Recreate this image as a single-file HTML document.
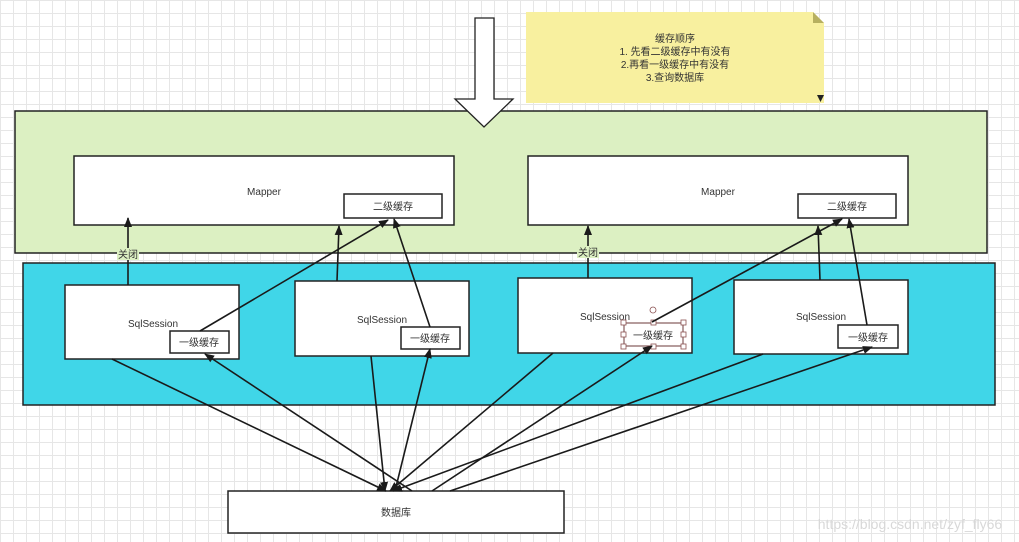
<!DOCTYPE html>
<html><head><meta charset="utf-8"><style>
html,body{margin:0;padding:0}
body{width:1019px;height:542px;overflow:hidden;background-color:#fff;
background-image:linear-gradient(#e6e6e6 1px,transparent 1px),linear-gradient(90deg,#e6e6e6 1px,transparent 1px);
background-size:13px 13px;font-family:"Liberation Sans","Noto Sans CJK SC",sans-serif}
</style></head><body>
<svg width="1019" height="542" viewBox="0 0 1019 542" xmlns="http://www.w3.org/2000/svg" style="position:absolute;left:0;top:0">
<defs><marker id="a" markerWidth="10" markerHeight="10" refX="9" refY="5" orient="auto" markerUnits="userSpaceOnUse"><path d="M0,1 L10,5 L0,9 Z" fill="#1a1a1a"/></marker></defs>
<g font-family="Liberation Sans, Noto Sans CJK SC, sans-serif" fill="#333">
<!-- note -->
<path d="M526,12 H813 L824,23 V103 H526 Z" fill="#f8f09f"/>
<path d="M813,12 L824,23 H813 Z" fill="#b7b060"/>
<path d="M817,95 h7 l-3.5,7 Z" fill="#222"/>
<text font-size="10" text-anchor="middle"><tspan x="675" y="42">缓存顺序</tspan><tspan x="675" y="55">1. 先看二级缓存中有没有</tspan><tspan x="675" y="68">2.再看一级缓存中有没有</tspan><tspan x="675" y="81">3.查询数据库</tspan></text>
<!-- green -->
<rect x="15" y="111" width="972" height="142" fill="#dcf0c2" stroke="#222" stroke-width="1.5"/>
<!-- big arrow -->
<path d="M475,18 H494 V99 H513 L484,127 L455,99 H475 Z" fill="#fff" stroke="#222" stroke-width="1.3"/>
<rect x="74" y="156" width="380" height="69" fill="#fff" stroke="#222" stroke-width="1.5"/>
<rect x="344" y="194" width="98" height="24" fill="#fff" stroke="#222" stroke-width="1.5"/>
<rect x="528" y="156" width="380" height="69" fill="#fff" stroke="#222" stroke-width="1.5"/>
<rect x="798" y="194" width="98" height="24" fill="#fff" stroke="#222" stroke-width="1.5"/>
<text font-size="10" x="264" y="195" text-anchor="middle">Mapper</text>
<text font-size="10" x="718" y="195" text-anchor="middle">Mapper</text>
<text font-size="10" x="393" y="210" text-anchor="middle">二级缓存</text>
<text font-size="10" x="847" y="210" text-anchor="middle">二级缓存</text>
<!-- cyan -->
<rect x="23" y="263" width="972" height="142" fill="#40d6e8" stroke="#222" stroke-width="1.5"/>
<rect x="65" y="285" width="174" height="74" fill="#fff" stroke="#222" stroke-width="1.5"/>
<rect x="295" y="281" width="174" height="75" fill="#fff" stroke="#222" stroke-width="1.5"/>
<rect x="518" y="278" width="174" height="75" fill="#fff" stroke="#222" stroke-width="1.5"/>
<rect x="734" y="280" width="174" height="74" fill="#fff" stroke="#222" stroke-width="1.5"/>
<rect x="170" y="331" width="59" height="22" fill="#fff" stroke="#222" stroke-width="1.5"/>
<rect x="401" y="327" width="59" height="22" fill="#fff" stroke="#222" stroke-width="1.5"/>
<rect x="624" y="323" width="59" height="23" fill="#fff" stroke="#6b3a3a" stroke-width="1"/>
<rect x="838" y="325" width="60" height="23" fill="#fff" stroke="#222" stroke-width="1.5"/>
<text font-size="10" x="153" y="327" text-anchor="middle">SqlSession</text>
<text font-size="10" x="382" y="323" text-anchor="middle">SqlSession</text>
<text font-size="10" x="605" y="320" text-anchor="middle">SqlSession</text>
<text font-size="10" x="821" y="320" text-anchor="middle">SqlSession</text>
<text font-size="10" x="199" y="346" text-anchor="middle">一级缓存</text>
<text font-size="10" x="430" y="342" text-anchor="middle">一级缓存</text>
<text font-size="10" x="653" y="339" text-anchor="middle">一级缓存</text>
<text font-size="10" x="868" y="341" text-anchor="middle">一级缓存</text>
<g fill="#fff" stroke="#8a5050" stroke-width="0.8">
<circle cx="653" cy="310" r="3"/><rect x="621" y="320" width="5" height="5"/><rect x="651" y="320" width="5" height="5"/><rect x="681" y="320" width="5" height="5"/><rect x="621" y="332" width="5" height="5"/><rect x="681" y="332" width="5" height="5"/><rect x="621" y="344" width="5" height="5"/><rect x="651" y="344" width="5" height="5"/><rect x="681" y="344" width="5" height="5"/></g>
<rect x="228" y="491" width="336" height="42" fill="#fff" stroke="#222" stroke-width="1.5"/>
<text font-size="10" x="396" y="516" text-anchor="middle">数据库</text>
</g>
<g stroke="#1a1a1a" stroke-width="1.6" fill="none" marker-end="url(#a)">
<line x1="128" y1="285" x2="128" y2="218"/>
<line x1="200" y1="331" x2="388" y2="220"/>
<line x1="337" y1="281" x2="339" y2="226"/>
<line x1="430" y1="327" x2="394" y2="219"/>
<line x1="588" y1="278" x2="588" y2="226"/>
<line x1="652" y1="322" x2="842" y2="219"/>
<line x1="820" y1="280" x2="818" y2="226"/>
<line x1="867" y1="325" x2="849" y2="219"/>
<line x1="112" y1="359" x2="386" y2="491"/>
<line x1="412" y1="491" x2="205" y2="354"/>
<line x1="371" y1="356" x2="385" y2="491"/>
<line x1="395" y1="491" x2="430" y2="349"/>
<line x1="553" y1="353" x2="390" y2="491"/>
<line x1="432" y1="491" x2="652" y2="346"/>
<line x1="763" y1="354" x2="393" y2="491"/>
<line x1="450" y1="491" x2="872" y2="347"/>
</g>
<g font-family="Liberation Sans, Noto Sans CJK SC, sans-serif" font-size="10" fill="#333" text-anchor="middle">
<rect x="117" y="248" width="22" height="12" fill="#dcf0c2"/><text x="128" y="258">关闭</text>
<rect x="577" y="246" width="22" height="12" fill="#dcf0c2"/><text x="588" y="256">关闭</text>
<text x="910" y="529" font-size="14" fill="#d8d8d8">https://blog.csdn.net/zyf_fly66</text>
</g>
</svg>
</body></html>
